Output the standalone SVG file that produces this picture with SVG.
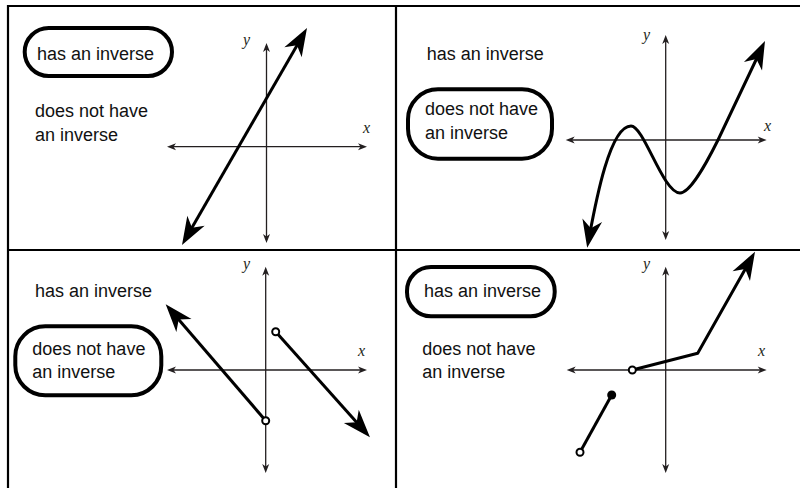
<svg xmlns="http://www.w3.org/2000/svg" width="800" height="488" viewBox="0 0 800 488">
<style>
.grid{stroke:#000;stroke-width:2.2;fill:none}
.axis{stroke:#231f20;stroke-width:1.3;fill:none;marker-start:url(#ax);marker-end:url(#ax)}
.graph{stroke:#000;stroke-width:3;fill:none;stroke-linejoin:round}
.arr2{marker-start:url(#big);marker-end:url(#big)}
.arr1{marker-end:url(#big)}
.pill{fill:#fff;stroke:#000;stroke-width:4}
.lbl{font-family:"Liberation Sans",Arial,sans-serif;font-size:18px;fill:#111}
.var{font-family:"Liberation Serif","Times New Roman",serif;font-style:italic;font-size:16px;fill:#231f20}
.open{fill:#fff;stroke:#000;stroke-width:2}
.dot{fill:#000}
</style>
<defs>
<marker id="big" markerUnits="userSpaceOnUse" orient="auto-start-reverse" refX="0" refY="0" markerWidth="40" markerHeight="40" viewBox="-20 -20 40 40" overflow="visible">
<path d="M10 0 L-18 -10 L-10 0 L-18 10 Z" fill="#000"/>
</marker>
<marker id="ax" markerUnits="userSpaceOnUse" orient="auto-start-reverse" refX="0" refY="0" markerWidth="20" markerHeight="20" viewBox="-10 -10 20 20" overflow="visible">
<path d="M3 0 L-6 -3.5 L-3.5 0 L-6 3.5 Z" fill="#231f20"/>
</marker>
</defs>
<g id="grid">
<line class="grid" x1="7" y1="6" x2="800" y2="6"/>
<line class="grid" x1="8" y1="5" x2="8" y2="488"/>
<line class="grid" x1="396" y1="5" x2="396" y2="488"/>
<line class="grid" x1="7" y1="250" x2="800" y2="250"/>
</g>
<g id="panel-top-left">
<g id="tl-has-inverse">
<rect class="pill" x="24.7" y="28" width="147.3" height="48" rx="24"/>
<text class="lbl" x="37" y="60">has an inverse</text>
</g>
<g id="tl-no-inverse">
<text class="lbl" x="35" y="117">does not have</text>
<text class="lbl" x="35" y="140.5">an inverse</text>
</g>
<g id="tl-axes">
<line class="axis" x1="266.5" y1="240" x2="266.5" y2="46"/>
<line class="axis" x1="170" y1="146.7" x2="364" y2="146.7"/>
<text class="var" x="243" y="45">y</text>
<text class="var" x="363" y="133">x</text>
</g>
<g id="tl-graph">
<line class="graph arr2" x1="187" y1="236.3" x2="302" y2="36.7"/>
</g>
</g>
<g id="panel-top-right">
<g id="tr-has-inverse">
<text class="lbl" x="426.7" y="60">has an inverse</text>
</g>
<g id="tr-no-inverse">
<rect class="pill" x="408" y="89.3" width="144" height="69.4" rx="30"/>
<text class="lbl" x="425" y="115">does not have</text>
<text class="lbl" x="425" y="139">an inverse</text>
</g>
<g id="tr-axes">
<line class="axis" x1="665.7" y1="237" x2="665.7" y2="38"/>
<line class="axis" x1="568.7" y1="140" x2="763.7" y2="140"/>
<text class="var" x="643" y="40">y</text>
<text class="var" x="764" y="131">x</text>
</g>
<g id="tr-graph">
<path class="graph arr2" d="M589 238 C596 200 610 126 631 126 C644 126 663 193 680 193 C690 193 705 166 718 140 L760.7 50"/>
</g>
</g>
<g id="panel-bottom-left">
<g id="bl-has-inverse">
<text class="lbl" x="35" y="296.7">has an inverse</text>
</g>
<g id="bl-no-inverse">
<rect class="pill" x="15.3" y="326.3" width="146" height="69" rx="30"/>
<text class="lbl" x="32.3" y="355">does not have</text>
<text class="lbl" x="32.3" y="378.3">an inverse</text>
</g>
<g id="bl-axes">
<line class="axis" x1="265.7" y1="470" x2="265.7" y2="269.7"/>
<line class="axis" x1="170" y1="370" x2="364" y2="370"/>
<text class="var" x="243" y="269">y</text>
<text class="var" x="358" y="356">x</text>
</g>
<g id="bl-graph">
<line class="graph arr1" x1="265.7" y1="420.7" x2="172.2" y2="311.9"/>
<line class="graph arr1" x1="275.7" y1="331.7" x2="363.3" y2="429.8"/>
<circle class="open" cx="265.7" cy="420.7" r="3.5"/>
<circle class="open" cx="275.7" cy="331.7" r="3.5"/>
</g>
</g>
<g id="panel-bottom-right">
<g id="br-has-inverse">
<rect class="pill" x="407" y="267" width="147.7" height="49.3" rx="24"/>
<text class="lbl" x="424" y="296.7">has an inverse</text>
</g>
<g id="br-no-inverse">
<text class="lbl" x="422.3" y="355">does not have</text>
<text class="lbl" x="422.3" y="378.3">an inverse</text>
</g>
<g id="br-axes">
<line class="axis" x1="665.7" y1="470" x2="665.7" y2="269.7"/>
<line class="axis" x1="569.7" y1="370" x2="763.7" y2="370"/>
<text class="var" x="643" y="269">y</text>
<text class="var" x="758" y="356">x</text>
</g>
<g id="br-graph">
<polyline class="graph arr1" points="632.3,370 697.7,353.3 750.1,260.4"/>
<line class="graph" x1="611.7" y1="395" x2="580" y2="452.3"/>
<circle class="dot" cx="611.7" cy="395" r="4.5"/>
<circle class="open" cx="580" cy="452.3" r="3.5"/>
<circle class="open" cx="632.3" cy="370" r="3.5"/>
</g>
</g>
</svg>
